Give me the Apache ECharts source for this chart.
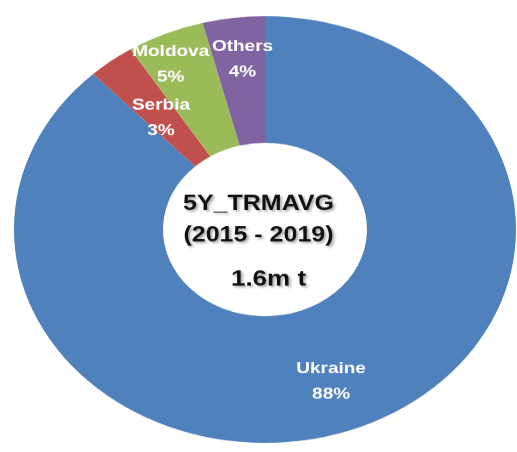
<!DOCTYPE html>
<html>
<head>
<meta charset="utf-8">
<script src="https://cdn.jsdelivr.net/npm/echarts@6/dist/echarts.min.js"></script>
<style>
  html, body { margin: 0; padding: 0; background: #fff; overflow: hidden; }
  #wrap { width: 517px; height: 452px; overflow: hidden; }
  /* the source picture is squashed vertically, so the chart is drawn round and then flattened */
  #main { width: 517px; height: 532px; transform: scaleY(0.85); transform-origin: 0 0; }
</style>
</head>
<body>
<div id="wrap"><div id="main"></div></div>
<script>
// data
const countries = ['Ukraine', 'Serbia', 'Moldova', 'Others'];
const shares = [88, 3, 5, 4];
const colors = ['#4f81bd', '#c0504d', '#9bbb59', '#8064a2'];
const centerLines = ['5Y_TRMAVG', '(2015 - 2019)', '1.6m t'];

// small nudges so the labels sit where the original put them
const labelNudge = { Ukraine: [0, 12], Serbia: [6, 11], Moldova: [-23, -29], Others: [0, -22] };

let myChart = echarts.init(document.getElementById('main'));

let option = {
    backgroundColor: '#fff',
    animation: false,
    color: colors,
    graphic: [
        {
            type: 'group',
            left: 'center',
            top: 222,
            children: [
                {
                    type: 'text', x: -4, y: 0,
                    style: {
                        text: centerLines[0] + '\n' + centerLines[1],
                        align: 'center',
                        font: 'bold 25px "Liberation Sans", Arial, sans-serif',
                        lineHeight: 37,
                        fill: '#111',
                        textShadowColor: 'rgba(0,0,0,0.35)', textShadowBlur: 3,
                        textShadowOffsetX: 2, textShadowOffsetY: 2
                    }
                },
                {
                    type: 'text', x: 6, y: 94,
                    style: {
                        text: centerLines[2],
                        align: 'center',
                        font: 'bold 26px "Liberation Sans", Arial, sans-serif',
                        fill: '#111',
                        textShadowColor: 'rgba(0,0,0,0.35)', textShadowBlur: 3,
                        textShadowOffsetX: 2, textShadowOffsetY: 2
                    }
                }
            ]
        }
    ],
    series: [
        {
            name: 'share',
            type: 'pie',
            center: [265, 270],
            radius: [102, 251],
            startAngle: 90,
            clockwise: true,
            avoidLabelOverlap: false,
            label: {
                show: true,
                position: 'inside',
                formatter: '{b}\n{c}%',
                color: '#fff',
                fontFamily: '"Liberation Sans", Arial, sans-serif',
                fontWeight: 'bold',
                fontSize: 19,
                lineHeight: 30
            },
            labelLine: { show: false },
            labelLayout: function (p) {
                let n = labelNudge[countries[p.dataIndex]] || [0, 0];
                return { dx: n[0], dy: n[1] };
            },
            itemStyle: { borderWidth: 0 },
            emphasis: { disabled: true },
            data: countries.map(function (c, i) { return { name: c, value: shares[i] }; })
        }
    ]
};
myChart.setOption(option);
</script>
</body>
</html>
